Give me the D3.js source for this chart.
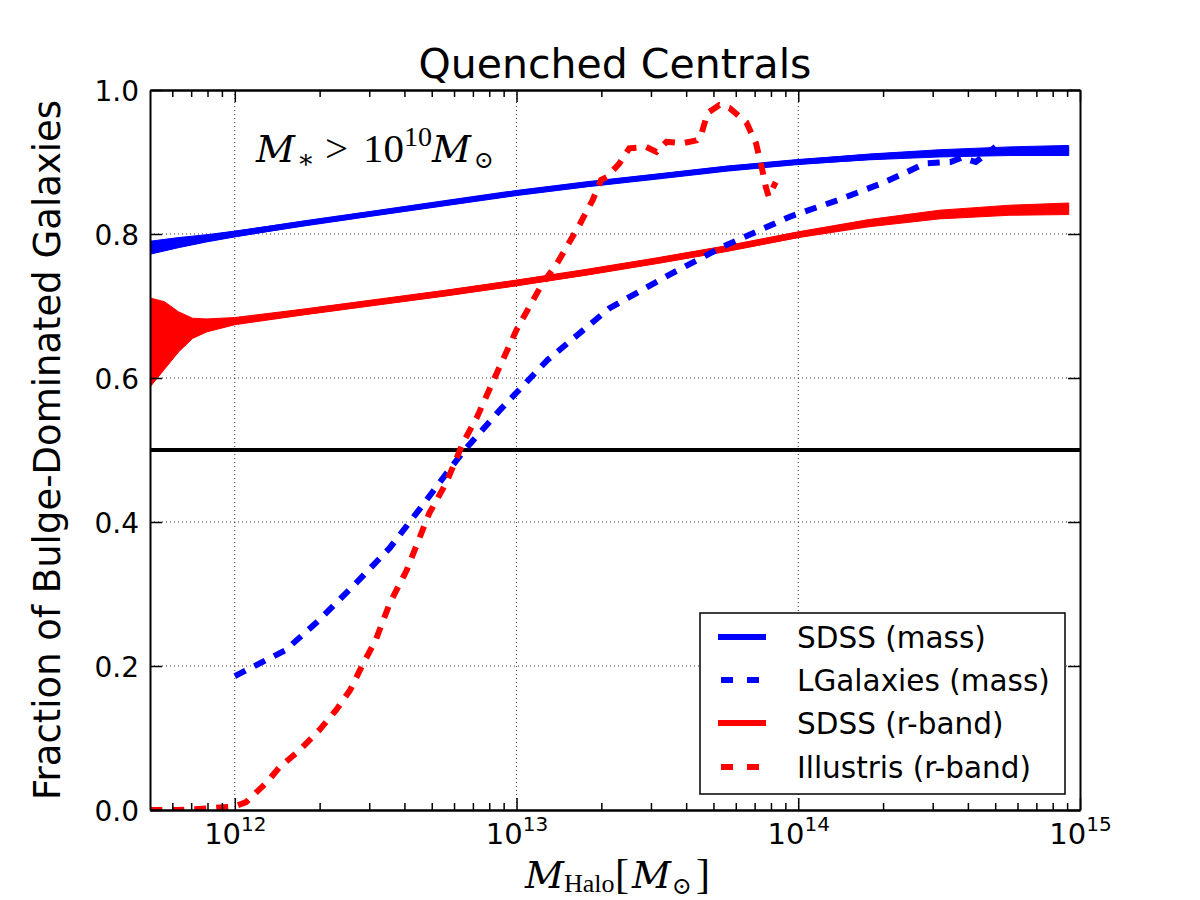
<!DOCTYPE html>
<html>
<head>
<meta charset="utf-8">
<script src="https://cdn.jsdelivr.net/npm/d3@7"></script>
<style>
  body { margin: 0; background: #fff; }
  svg { display: block; }
</style>
</head>
<body>
<script>
// Quenched centrals: bulge fraction vs halo mass

// x values are log10(M_halo / M_sun)
var sdssMassLogM = [11.70, 11.80, 11.90, 12.00, 12.25, 12.50, 12.75, 13.00, 13.25, 13.50, 13.75, 14.00, 14.25, 14.50, 14.75, 14.96];
var sdssMassFrac = [0.781, 0.788, 0.794, 0.800, 0.815, 0.829, 0.843, 0.857, 0.869, 0.880, 0.891, 0.900, 0.907, 0.912, 0.915, 0.916];
var sdssMassLo   = [0.772, 0.781, 0.789, 0.796, 0.812, 0.826, 0.840, 0.854, 0.866, 0.877, 0.888, 0.897, 0.903, 0.907, 0.909, 0.909];
var sdssMassHi   = [0.790, 0.795, 0.799, 0.804, 0.818, 0.832, 0.846, 0.860, 0.872, 0.883, 0.894, 0.903, 0.911, 0.917, 0.921, 0.923];

var lgalLogM = [12.00, 12.09, 12.18, 12.30, 12.43, 12.55, 12.66, 12.76, 12.82, 12.94, 13.11, 13.33, 13.55, 13.73, 13.89, 13.97, 14.14, 14.30, 14.38, 14.45, 14.54, 14.58, 14.63, 14.67, 14.70];
var lgalFrac = [0.186, 0.204, 0.222, 0.264, 0.315, 0.364, 0.420, 0.472, 0.502, 0.555, 0.625, 0.697, 0.745, 0.782, 0.810, 0.824, 0.847, 0.871, 0.885, 0.898, 0.900, 0.906, 0.900, 0.912, 0.921];

var sdssRLogM = [11.70, 11.75, 11.80, 11.85, 11.90, 12.00, 12.25, 12.50, 12.75, 13.00, 13.25, 13.50, 13.75, 14.00, 14.25, 14.50, 14.75, 14.96];
var sdssRFrac = [0.650, 0.658, 0.664, 0.669, 0.673, 0.679, 0.692, 0.705, 0.718, 0.732, 0.747, 0.763, 0.780, 0.799, 0.815, 0.827, 0.833, 0.835];
var sdssRLo   = [0.588, 0.612, 0.636, 0.655, 0.664, 0.674, 0.688, 0.701, 0.714, 0.728, 0.743, 0.759, 0.776, 0.795, 0.810, 0.821, 0.826, 0.827];
var sdssRHi   = [0.711, 0.706, 0.692, 0.683, 0.682, 0.684, 0.696, 0.709, 0.722, 0.736, 0.751, 0.767, 0.784, 0.803, 0.820, 0.833, 0.840, 0.843];

var illLogM = [11.70, 11.80, 11.90, 12.00, 12.04, 12.11, 12.16, 12.23, 12.30, 12.36, 12.41, 12.45, 12.50, 12.55, 12.61, 12.69, 12.75, 12.81, 12.86, 12.93, 13.00, 13.09, 13.145, 13.225, 13.27, 13.30, 13.32, 13.365, 13.40, 13.46, 13.497, 13.532, 13.589, 13.639, 13.657, 13.678, 13.72, 13.756, 13.816, 13.85, 13.87, 13.885, 13.895, 13.92];
var illFrac = [0.000, 0.000, 0.002, 0.005, 0.011, 0.037, 0.060, 0.083, 0.111, 0.139, 0.167, 0.199, 0.236, 0.287, 0.333, 0.412, 0.454, 0.510, 0.546, 0.607, 0.667, 0.730, 0.760, 0.814, 0.847, 0.875, 0.879, 0.898, 0.919, 0.921, 0.914, 0.928, 0.926, 0.930, 0.940, 0.968, 0.979, 0.975, 0.955, 0.926, 0.893, 0.865, 0.852, 0.872];

var xMajor = [1e12, 1e13, 1e14, 1e15];
var xMajorExp = ["12", "13", "14", "15"];
var yTicks = [0.0, 0.2, 0.4, 0.6, 0.8, 1.0];
var legendLabels = ["SDSS (mass)", "LGalaxies (mass)", "SDSS (r-band)", "Illustris (r-band)"];

var W = 1200, H = 900;
var plotL = 150, plotR = 1080, plotT = 90, plotB = 810;

var svg = d3.select("body").append("svg")
  .attr("width", W)
  .attr("height", H);

var x = d3.scaleLog().domain([5e11, 1e15]).range([plotL, plotR]);
var y = d3.scaleLinear().domain([0, 1]).range([plotB, plotT]);

// minor ticks 2..9 x 10^k inside the domain
var xMinor = [];
[11, 12, 13, 14].forEach(function(k) {
  for (var m = 2; m <= 9; m++) {
    var v = m * Math.pow(10, k);
    if (v > 5e11 && v < 1e15) xMinor.push(v);
  }
});

svg.append("clipPath").attr("id", "plotclip")
  .append("rect")
  .attr("x", plotL).attr("y", plotT)
  .attr("width", plotR - plotL).attr("height", plotB - plotT);

// dotted grid
var grid = svg.append("g");
grid.selectAll(".gx").data([1e12, 1e13, 1e14]).enter().append("line")
  .attr("x1", function(d) { return x(d); })
  .attr("x2", function(d) { return x(d); })
  .attr("y1", plotT).attr("y2", plotB)
  .attr("stroke", "#333").attr("stroke-width", 1).attr("stroke-dasharray", "1,3");
grid.selectAll(".gy").data([0.2, 0.4, 0.6, 0.8]).enter().append("line")
  .attr("x1", plotL).attr("x2", plotR)
  .attr("y1", function(d) { return y(d); })
  .attr("y2", function(d) { return y(d); })
  .attr("stroke", "#333").attr("stroke-width", 1).attr("stroke-dasharray", "1,3");

var plot = svg.append("g").attr("clip-path", "url(#plotclip)");

// 50% line
plot.append("line")
  .attr("x1", plotL).attr("x2", plotR)
  .attr("y1", y(0.5)).attr("y2", y(0.5))
  .attr("stroke", "#000").attr("stroke-width", 4);

function pts(xs, ys) {
  return xs.map(function(v, i) { return [Math.pow(10, v), ys[i]]; });
}
function bandPts(xs, lo, hi) {
  return xs.map(function(v, i) { return [Math.pow(10, v), lo[i], hi[i]]; });
}

var line = d3.line()
  .x(function(d) { return x(d[0]); })
  .y(function(d) { return y(d[1]); });

var band = d3.area()
  .x(function(d) { return x(d[0]); })
  .y0(function(d) { return y(d[1]); })
  .y1(function(d) { return y(d[2]); });

// SDSS r-band
plot.append("path").attr("d", band(bandPts(sdssRLogM, sdssRLo, sdssRHi)))
  .attr("fill", "#ff0000").attr("stroke", "#ff0000").attr("stroke-width", 1);
plot.append("path").attr("d", line(pts(sdssRLogM, sdssRFrac)))
  .attr("fill", "none").attr("stroke", "#ff0000").attr("stroke-width", 6);

// SDSS mass
plot.append("path").attr("d", band(bandPts(sdssMassLogM, sdssMassLo, sdssMassHi)))
  .attr("fill", "#0000ff").attr("stroke", "#0000ff").attr("stroke-width", 1);
plot.append("path").attr("d", line(pts(sdssMassLogM, sdssMassFrac)))
  .attr("fill", "none").attr("stroke", "#0000ff").attr("stroke-width", 6);

// LGalaxies
plot.append("path").attr("d", line(pts(lgalLogM, lgalFrac)))
  .attr("fill", "none").attr("stroke", "#0000ff").attr("stroke-width", 6)
  .attr("stroke-dasharray", "12,10");

// Illustris
plot.append("path").attr("d", line(pts(illLogM, illFrac)))
  .attr("fill", "none").attr("stroke", "#ff0000").attr("stroke-width", 6)
  .attr("stroke-dasharray", "12,10");

// axes, ticks pointing inward on all four sides
function styleAxis(g) {
  g.selectAll("path").attr("stroke", "#000").attr("stroke-width", 2);
  g.selectAll("line").attr("stroke", "#000").attr("stroke-width", 1.5);
}

var xb = svg.append("g").attr("transform", "translate(0," + plotB + ")")
  .call(d3.axisBottom(x).tickValues(xMajor).tickSizeInner(-12).tickSizeOuter(0).tickPadding(22));
xb.call(styleAxis);
xb.selectAll("text").each(function(d, i) {
  var t = d3.select(this);
  t.text(null).attr("dy", null).attr("y", 34)
    .attr("font-family", "DejaVu Sans").attr("font-size", 29).attr("fill", "#000");
  t.append("tspan").text("10");
  t.append("tspan").attr("dy", -13).attr("font-size", 20).text(xMajorExp[i]);
});

svg.append("g").attr("transform", "translate(0," + plotB + ")")
  .call(d3.axisBottom(x).tickValues(xMinor).tickSizeInner(-7).tickSizeOuter(0).tickFormat(""))
  .call(styleAxis);

svg.append("g").attr("transform", "translate(0," + plotT + ")")
  .call(d3.axisTop(x).tickValues(xMajor).tickSizeInner(-12).tickSizeOuter(0).tickFormat(""))
  .call(styleAxis);
svg.append("g").attr("transform", "translate(0," + plotT + ")")
  .call(d3.axisTop(x).tickValues(xMinor).tickSizeInner(-7).tickSizeOuter(0).tickFormat(""))
  .call(styleAxis);

var yl = svg.append("g").attr("transform", "translate(" + plotL + ",0)")
  .call(d3.axisLeft(y).tickValues(yTicks).tickSizeInner(-12).tickSizeOuter(0)
    .tickPadding(11).tickFormat(d3.format(".1f")));
yl.call(styleAxis);
yl.selectAll("text")
  .attr("font-family", "DejaVu Sans").attr("font-size", 28).attr("fill", "#000")
  .attr("dy", "0.36em");

svg.append("g").attr("transform", "translate(" + plotR + ",0)")
  .call(d3.axisRight(y).tickValues(yTicks).tickSizeInner(-12).tickSizeOuter(0).tickFormat(""))
  .call(styleAxis);

// title and axis labels
svg.append("text")
  .attr("x", (plotL + plotR) / 2).attr("y", 78)
  .attr("text-anchor", "middle")
  .attr("font-family", "DejaVu Sans").attr("font-size", 41)
  .text("Quenched Centrals");

svg.append("text")
  .attr("transform", "translate(60," + (plotT + plotB) / 2 + ") rotate(-90)")
  .attr("text-anchor", "middle")
  .attr("font-family", "DejaVu Sans").attr("font-size", 37)
  .text("Fraction of Bulge-Dominated Galaxies");

// x label: M_Halo [M_sun]  (italic M in DejaVu Serif, upright parts in Liberation Serif)
var xlab = svg.append("text").attr("y", 888)
  .attr("font-family", "Liberation Serif").attr("font-size", 42);
xlab.append("tspan").attr("x", 525).attr("font-family", "DejaVu Serif").attr("font-size", 38)
  .attr("font-style", "italic").text("M");
xlab.append("tspan").attr("x", 564).attr("dy", 4).attr("font-size", 26).text("Halo");
xlab.append("tspan").attr("x", 615).attr("dy", -4).text("[");
xlab.append("tspan").attr("x", 632).attr("font-family", "DejaVu Serif").attr("font-size", 38)
  .attr("font-style", "italic").text("M");
xlab.append("tspan").attr("x", 672).attr("dy", 6).attr("font-family", "DejaVu Serif")
  .attr("font-size", 24).text("\u2299");
xlab.append("tspan").attr("x", 696).attr("dy", -6).text("]");

// annotation: M_* > 10^10 M_sun
var ann = svg.append("text").attr("y", 162)
  .attr("font-family", "Liberation Serif").attr("font-size", 41);
ann.append("tspan").attr("x", 256).attr("font-family", "DejaVu Serif").attr("font-size", 38)
  .attr("font-style", "italic").text("M");
ann.append("tspan").attr("x", 297).attr("dy", 6).attr("font-family", "DejaVu Serif")
  .attr("font-size", 26).text("\u2217");
ann.append("tspan").attr("x", 325).attr("dy", -6).text(">");
ann.append("tspan").attr("x", 363).text("10");
ann.append("tspan").attr("x", 404).attr("dy", -16).attr("font-size", 28).text("10");
ann.append("tspan").attr("x", 432).attr("dy", 16).attr("font-family", "DejaVu Serif")
  .attr("font-size", 38).attr("font-style", "italic").text("M");
ann.append("tspan").attr("x", 474).attr("dy", 6).attr("font-family", "DejaVu Serif")
  .attr("font-size", 24).text("\u2299");

// legend
var lg = svg.append("g");
lg.append("rect")
  .attr("x", 700).attr("y", 613).attr("width", 365).attr("height", 181)
  .attr("fill", "#fff").attr("stroke", "#000").attr("stroke-width", 1.5);

var legendColor = ["#0000ff", "#0000ff", "#ff0000", "#ff0000"];
var legendDash = [null, "12,14", null, "12,14"];
var legendRowY = [637, 680, 723, 767];

legendLabels.forEach(function(name, i) {
  var dashed = legendDash[i] !== null;
  lg.append("line")
    .attr("x1", dashed ? 721 : 718).attr("x2", dashed ? 759 : 766)
    .attr("y1", legendRowY[i]).attr("y2", legendRowY[i])
    .attr("stroke", legendColor[i]).attr("stroke-width", 6)
    .attr("stroke-dasharray", legendDash[i]);
  lg.append("text")
    .attr("x", 797).attr("y", legendRowY[i]).attr("dy", "0.36em")
    .attr("font-family", "DejaVu Sans").attr("font-size", 29.5)
    .text(name);
});
</script>
</body>
</html>
